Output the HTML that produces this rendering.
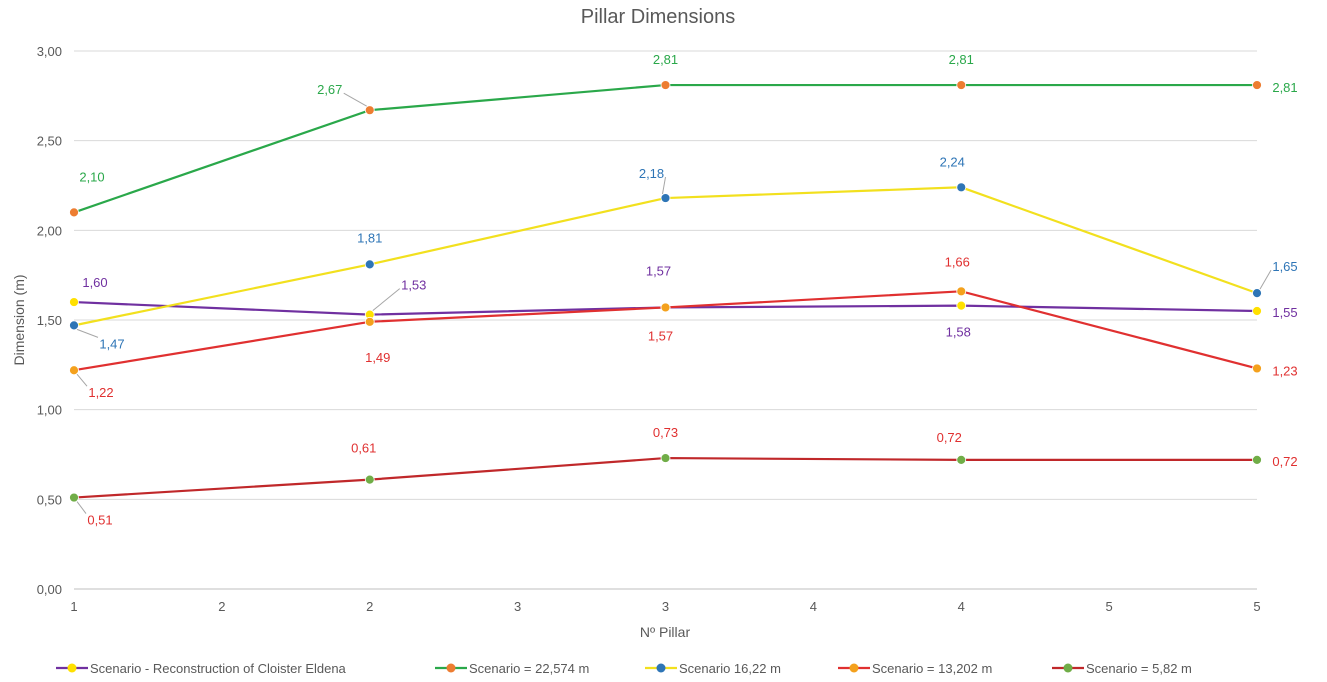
<!DOCTYPE html>
<html><head><meta charset="utf-8"><style>
body{margin:0;background:#fff;}
svg{display:block;font-family:"Liberation Sans",sans-serif;}
</style></head><body>
<svg id="c" width="1327" height="682" viewBox="0 0 1327 682">
<text x="658" y="23" text-anchor="middle" font-size="20" fill="#595959">Pillar Dimensions</text>
<text transform="translate(24,320) rotate(-90)" text-anchor="middle" font-size="14" fill="#595959">Dimension (m)</text>
<text x="665" y="637" text-anchor="middle" font-size="14" fill="#595959">Nº Pillar</text>
<g id="grid"></g><g id="series"></g><g id="legend"></g>
</svg>
<script>
const yTicks=[0,0.5,1,1.5,2,2.5,3];
const yTickLabels=["0,00","0,50","1,00","1,50","2,00","2,50","3,00"];
const xTickLabels=["1","2","2","3","3","4","4","5","5"];
const pillars=[0,2,4,6,8];
const seriesNames=["Scenario - Reconstruction of Cloister Eldena","Scenario = 22,574 m","Scenario 16,22 m","Scenario = 13,202 m","Scenario = 5,82 m"];
const reconstruction=[1.60,1.53,1.57,1.58,1.55];
const s22574=[2.10,2.67,2.81,2.81,2.81];
const s1622=[1.47,1.81,2.18,2.24,1.65];
const s13202=[1.22,1.49,1.57,1.66,1.23];
const s582=[0.51,0.61,0.73,0.72,0.72];
const NS="http://www.w3.org/2000/svg";
const X0=74,X1=1257,Y0=589,Y3=51;
const xs=i=>X0+(X1-X0)*i/8;
const ys=v=>Y0-(Y0-Y3)*v/3;
function mk(t,a,p){const e=document.createElementNS(NS,t);for(const k in a)e.setAttribute(k,a[k]);p.appendChild(e);return e;}
const grid=document.getElementById('grid');
yTicks.forEach((v,i)=>{
 const l=mk('line',{x1:X0,x2:X1,y1:ys(v),y2:ys(v),stroke:i==0?'#bfbfbf':'#d9d9d9','stroke-width':1},grid);
 
 
 const t=mk('text',{x:62,y:ys(v)+5,'text-anchor':'end','font-size':13,fill:'#595959'},grid);t.textContent=yTickLabels[i];
 
 
});
xTickLabels.forEach((s,i)=>{
 const t=mk('text',{x:xs(i),y:611,'text-anchor':'middle','font-size':13,fill:'#595959'},grid);t.textContent=s;
 
 
});
const styles=[
 {line:'#7030a0',mark:'#ffe000',lab:'#7030a0',off:[[21,-20,0],[44,-30,1],[-7,-37,0],[-3,26,0],[28,1,0]]},
 {line:'#2aa84a',mark:'#ed7d31',lab:'#2aa84a',off:[[18,-36,0],[-40,-21,1],[0,-26,0],[0,-26,0],[28,2,0]]},
 {line:'#f2e01e',mark:'#2e75b6',lab:'#2e75b6',off:[[38,18,1],[0,-27,0],[-14,-25,1],[-9,-26,0],[28,-27,1]]},
 {line:'#e03030',mark:'#f4a11d',lab:'#e03030',off:[[27,22,1],[8,35,0],[-5,28,0],[-4,-30,0],[28,2,0]]},
 {line:'#c0282a',mark:'#70ad47',lab:'#e03030',off:[[26,22,1],[-6,-32,0],[0,-26,0],[-12,-23,0],[28,1,0]]}
];
const data=[reconstruction,s22574,s1622,s13202,s582];
const sg=document.getElementById('series');
data.forEach((d,si)=>{
 const st=styles[si];const g=mk('g',{},sg);
 
 
 const pl=mk('polyline',{points:d.map((v,i)=>xs(pillars[i])+','+ys(v)).join(' '),fill:'none',stroke:st.line,'stroke-width':2.2},g);
 
 
});
data.forEach((d,si)=>{
 const st=styles[si];
 d.forEach((v,i)=>{
  const x=xs(pillars[i]),y=ys(v),o=st.off[i];
  const lx=x+o[0],ly=y+o[1];
  if(o[2]){const ln=mk('polyline',{points:`${x+(o[0]>0?3:-3)},${y+(o[1]>0?4:-4)} ${lx-(o[0]>0?14:-14)},${ly+(o[1]>0?-6:4)}`,fill:'none',stroke:'#a6a6a6','stroke-width':1},sg);
   
   }
  const c=mk('circle',{cx:x,cy:y,r:4.5,fill:st.mark,stroke:'#fff','stroke-width':0.8},sg);
  
  
  const t=mk('text',{x:lx,y:ly+5,'text-anchor':'middle','font-size':13,fill:st.lab},sg);
  t.textContent=v.toFixed(2).replace('.',',');
  
  
 });
});
const lg=document.getElementById('legend');
const lx=[56,435,645,838,1052];
seriesNames.forEach((n,i)=>{
 const g=mk('g',{},lg);
 
 
 mk('line',{x1:lx[i],x2:lx[i]+32,y1:668,y2:668,stroke:styles[i].line,'stroke-width':2.2},g);
 mk('circle',{cx:lx[i]+16,cy:668,r:4.5,fill:styles[i].mark},g);
 const t=mk('text',{x:lx[i]+34,y:673,'font-size':13,fill:'#595959'},g);t.textContent=n;
});
</script>
</body></html>
